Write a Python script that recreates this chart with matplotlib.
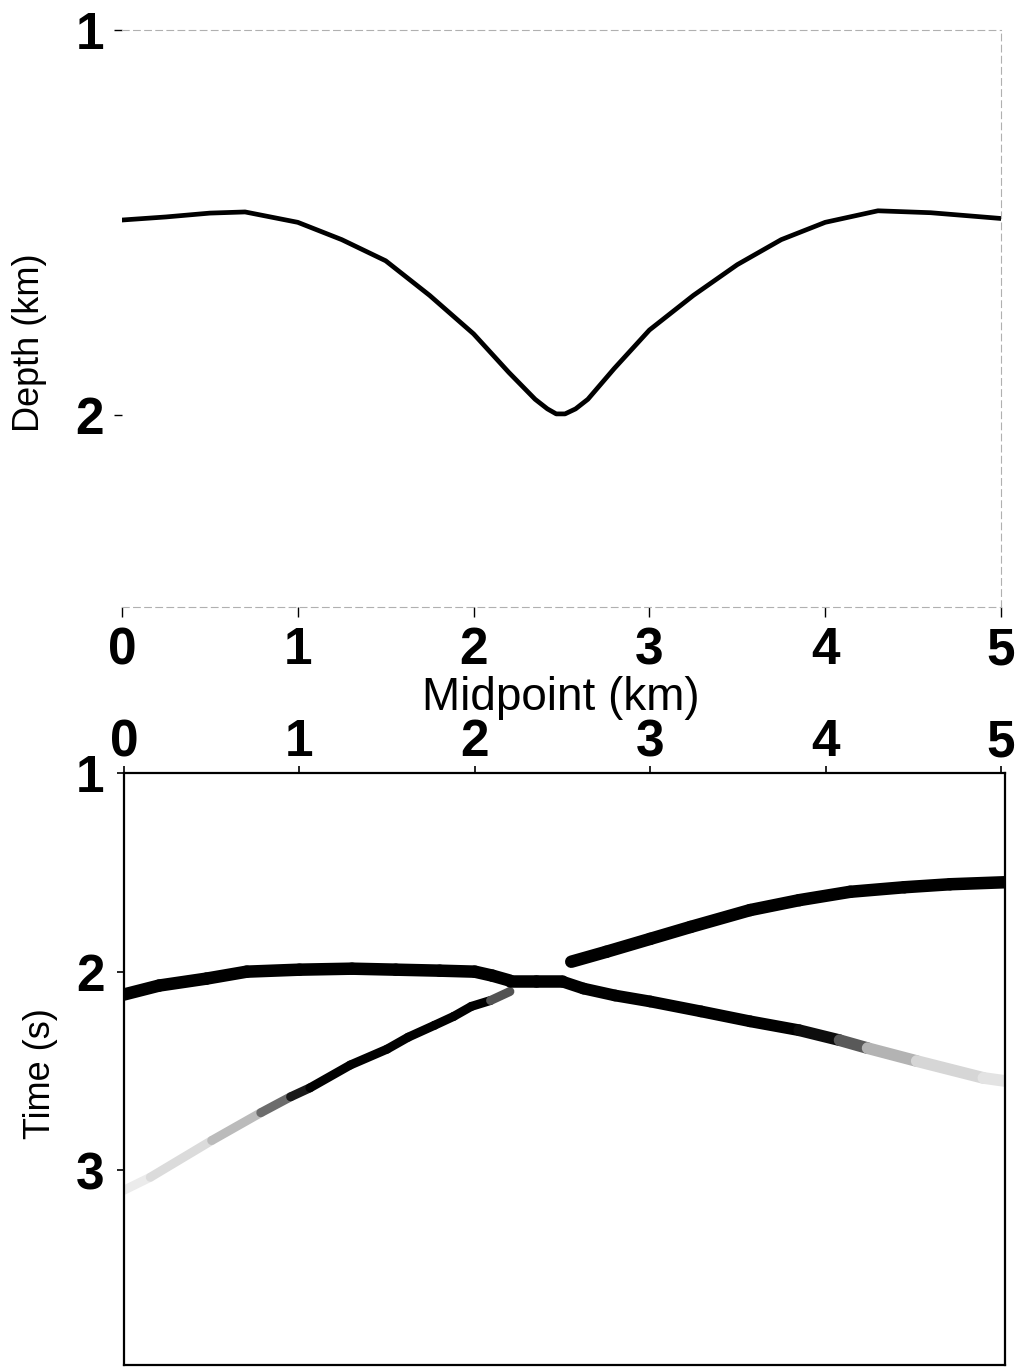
import matplotlib
matplotlib.use("Agg")
import matplotlib.pyplot as plt

plt.rcParams['font.family'] = ['Liberation Sans', 'DejaVu Sans']

# depth model (top)
mid_x = [0, 0.25, 0.5, 0.7, 1.0, 1.25, 1.5, 1.75, 2.0, 2.2, 2.35, 2.42, 2.47,
         2.52, 2.58, 2.65, 2.8, 3.0, 3.25, 3.5, 3.75, 4.0, 4.3, 4.6, 5.0]
depth = [1.494, 1.486, 1.476, 1.473, 1.50, 1.545, 1.60, 1.69, 1.79, 1.89, 1.96,
         1.985, 1.998, 1.998, 1.985, 1.96, 1.88, 1.78, 1.69, 1.61, 1.545, 1.50,
         1.47, 1.475, 1.49]

# events in the time section (bottom)
flat_x = [0, 0.2, 0.47, 0.7, 1.0, 1.3, 1.55, 1.8, 2.0, 2.1, 2.2, 2.35, 2.5]
flat_t = [2.115, 2.07, 2.035, 2.0, 1.99, 1.985, 1.99, 1.995, 2.0, 2.02, 2.045,
          2.045, 2.045]
flat_a = [1, 1, 1, 1, 1, 1, 1, 1, 1, 1, 1, 1, 1]

up_x = [2.55, 2.75, 3.0, 3.23, 3.57, 3.85, 4.14, 4.45, 4.71, 5.02]
up_t = [1.95, 1.9, 1.835, 1.775, 1.69, 1.64, 1.598, 1.575, 1.56, 1.55]
up_a = [1, 1, 1, 1, 1, 1, 1, 1, 1, 1]

low_x = [2.5, 2.62, 2.8, 3.0, 3.29, 3.57, 3.85, 4.08, 4.24, 4.52, 4.9, 5.02]
low_t = [2.05, 2.085, 2.12, 2.15, 2.2, 2.25, 2.295, 2.345, 2.385, 2.45, 2.535, 2.55]
low_a = [1, 1, 1, 1, 1, 1, 1, 0.9, 0.4, 0.2, 0.12, 0.1]

diag_x = [0, 0.15, 0.5, 0.78, 0.95, 1.06, 1.29, 1.5, 1.62, 1.77, 1.88, 1.98,
          2.09, 2.2]
diag_t = [3.1, 3.035, 2.85, 2.71, 2.63, 2.585, 2.47, 2.39, 2.33, 2.27, 2.225,
          2.175, 2.145, 2.1]
diag_a = [0.06, 0.1, 0.18, 0.35, 0.8, 1, 1, 1, 1, 1, 1, 1, 1, 0.35]

xticks = [0, 1, 2, 3, 4, 5]

W, H = 1018, 1367
fig = plt.figure(figsize=(W / 100, H / 100), dpi=100)

tickfont = dict(fontsize=37, fontweight='bold')

# ---- top panel
ax1 = fig.add_axes([122 / W, 1 - 607 / H, (1001 - 122) / W, 577 / H])
ax1.plot(mid_x, depth, color='black', lw=3.4, solid_joinstyle='round',
         solid_capstyle='round')
ax1.set_xlim(0, 5)
ax1.set_ylim(2.5, 1)
ax1.set_xticks(xticks)
ax1.set_yticks([1, 2])
ax1.set_xticklabels([str(v) for v in xticks], **tickfont)
ax1.set_yticklabels(['1', '2'], **tickfont)
ax1.tick_params(axis='x', direction='out', length=7, width=1, pad=7)
ax1.tick_params(axis='y', direction='out', length=6, width=1, pad=7)
ax1.spines['left'].set_visible(False)
for s in ['top', 'bottom', 'right']:
    ax1.spines[s].set_color('#b0b0b0')
    ax1.spines[s].set_linestyle((0, (6, 4)))
    ax1.spines[s].set_linewidth(0.8)

# ---- bottom panel
ax2 = fig.add_axes([124 / W, 2 / H, 881 / W, 592 / H])
for xs, ts, amps, lw in [(diag_x, diag_t, diag_a, 6.5),
                         (low_x, low_t, low_a, 8.5),
                         (up_x, up_t, up_a, 9),
                         (flat_x, flat_t, flat_a, 9)]:
    for i in range(len(xs) - 1):
        a = (amps[i] + amps[i + 1]) / 2
        ax2.plot(xs[i:i + 2], ts[i:i + 2], color=str(1 - a), lw=lw,
                 solid_capstyle='round')
ax2.set_xlim(0, 5.023)
ax2.set_ylim(3.98, 1)
ax2.xaxis.tick_top()
ax2.set_xticks(xticks)
ax2.set_xticklabels([str(v) for v in xticks], **tickfont)
ax2.set_yticks([1, 2, 3])
ax2.set_yticklabels(['1', '2', '3'], **tickfont)
ax2.tick_params(axis='x', direction='out', length=5, width=1.2, pad=-1)
ax2.tick_params(axis='y', direction='out', length=5, width=1.2, pad=9)
for s in ax2.spines.values():
    s.set_linewidth(1.6)

# axis labels
fig.text(561 / W, 1 - 710 / H, 'Midpoint (km)', fontsize=33,
         ha='center', va='baseline')
fig.text(30 / W, 1 - 343 / H, 'Depth (km)', fontsize=26, rotation=90,
         ha='center', va='center')
fig.text(40 / W, 1 - 1074 / H, 'Time (s)', fontsize=26, rotation=90,
         ha='center', va='center')

fig.savefig('out.png', dpi=100)
